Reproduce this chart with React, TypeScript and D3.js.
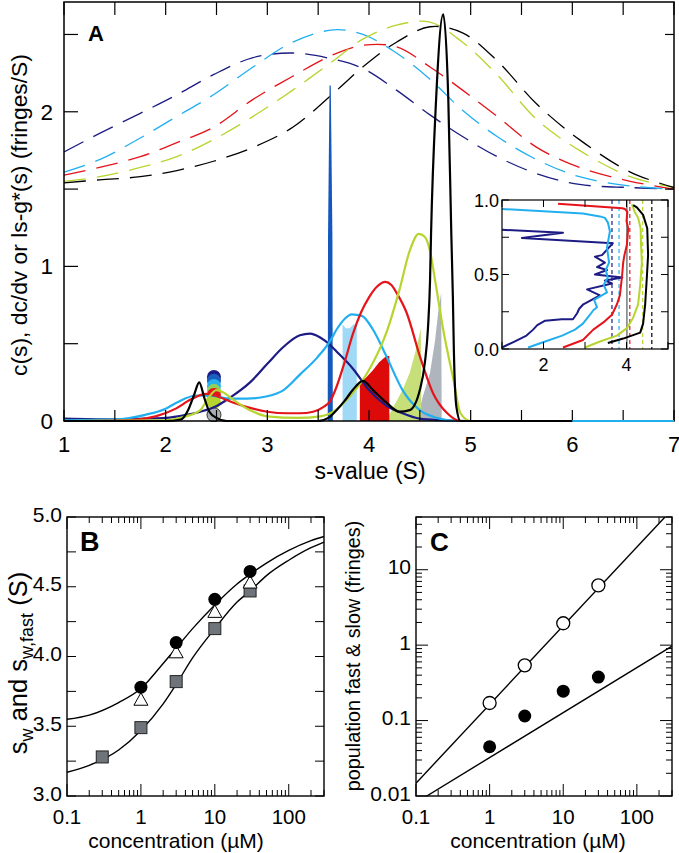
import React from "react";
import * as d3 from "d3";

const FONT = "'Liberation Sans', Arial, Helvetica, sans-serif";

// ---------------- Panel A data ----------------
// c(s) solid curves
const navyS = [1.0, 1.5, 1.8, 2.0, 2.2, 2.34, 2.48, 2.63, 2.83, 3.0, 3.16, 3.32, 3.42, 3.52, 3.62, 3.68, 3.84, 4.0, 4.17, 4.33, 4.5, 4.7, 5.0, 6.0];
const navyC = [0.015, 0.01, 0.015, 0.02, 0.04, 0.06, 0.09, 0.15, 0.25, 0.37, 0.48, 0.555, 0.565, 0.54, 0.49, 0.45, 0.34, 0.2, 0.1, 0.05, 0.015, 0.005, 0, 0];

const cyanS = [1.0, 1.5, 1.8, 2.0, 2.11, 2.3, 2.48, 2.63, 2.8, 3.0, 3.16, 3.32, 3.49, 3.62, 3.68, 3.76, 3.83, 3.93, 4.04, 4.17, 4.33, 4.5, 4.67, 4.85, 5.0, 6.0, 7.0];
const cyanC = [0.005, 0.01, 0.04, 0.08, 0.12, 0.165, 0.16, 0.145, 0.145, 0.16, 0.2, 0.3, 0.41, 0.52, 0.59, 0.66, 0.69, 0.68, 0.59, 0.42, 0.2, 0.07, 0.02, 0.0, 0, 0, 0];

const redS = [1.0, 1.6, 1.9, 2.1, 2.25, 2.4, 2.48, 2.66, 2.83, 3.0, 3.2, 3.32, 3.45, 3.55, 3.62, 3.68, 3.76, 3.84, 3.92, 4.0, 4.08, 4.16, 4.22, 4.27, 4.37, 4.5, 4.63, 4.77, 4.9, 5.0, 6.0];
const redC = [0, 0.005, 0.03, 0.08, 0.14, 0.175, 0.165, 0.12, 0.085, 0.06, 0.05, 0.05, 0.06, 0.09, 0.13, 0.22, 0.38, 0.56, 0.7, 0.8, 0.87, 0.9, 0.88, 0.83, 0.7, 0.42, 0.18, 0.05, 0.0, 0, 0];

const limeS = [1.0, 2.0, 2.2, 2.34, 2.42, 2.5, 2.58, 2.66, 2.83, 3.0, 3.3, 3.52, 3.62, 3.84, 4.0, 4.17, 4.3, 4.4, 4.49, 4.55, 4.6, 4.65, 4.73, 4.83, 4.9, 5.0, 6.0];
const limeC = [0, 0.005, 0.03, 0.07, 0.15, 0.2, 0.18, 0.14, 0.07, 0.03, 0.02, 0.03, 0.05, 0.18, 0.33, 0.57, 0.85, 1.1, 1.21, 1.19, 1.1, 0.91, 0.59, 0.27, 0.05, 0, 0];

const blackS = [1.0, 2.0, 2.15, 2.22, 2.28, 2.33, 2.38, 2.43, 2.5, 2.6, 3.0, 3.5, 3.6, 3.68, 3.76, 3.84, 3.94, 4.04, 4.17, 4.3, 4.4, 4.5, 4.55, 4.58, 4.6, 4.61, 4.66, 4.73, 4.78, 4.81, 4.825, 4.835, 4.86, 4.9, 5.0, 6.0];
const blackC = [0, 0, 0.01, 0.07, 0.17, 0.25, 0.15, 0.06, 0.02, 0, 0, 0, 0.02, 0.07, 0.13, 0.2, 0.26, 0.2, 0.12, 0.06, 0.07, 0.2, 0.38, 0.6, 0.9, 1.2, 2.08, 2.63, 2.08, 1.2, 0.8, 0.45, 0.09, 0, 0, 0];

// ls-g*(s) dashed curves (offset)
const dashS = [1, 1.35, 1.75, 2.11, 2.47, 2.86, 3.25, 3.65, 3.94, 4.27, 4.6, 4.92, 5.26, 5.65, 6.07, 6.57, 7.0];
const navyG = [1.74, 1.86, 1.99, 2.11, 2.24, 2.35, 2.38, 2.34, 2.28, 2.14, 1.98, 1.84, 1.71, 1.6, 1.53, 1.51, 1.5];
const cyanG = [1.61, 1.69, 1.83, 1.97, 2.11, 2.29, 2.45, 2.53, 2.5, 2.38, 2.21, 2.01, 1.84, 1.69, 1.58, 1.52, 1.5];
const redG = [1.59, 1.64, 1.71, 1.8, 1.9, 2.08, 2.23, 2.37, 2.43, 2.42, 2.29, 2.14, 1.97, 1.77, 1.64, 1.55, 1.5];
const limeG = [1.55, 1.58, 1.64, 1.71, 1.82, 1.97, 2.14, 2.33, 2.47, 2.56, 2.58, 2.45, 2.24, 1.95, 1.75, 1.58, 1.51];
const blackG = [1.54, 1.56, 1.58, 1.62, 1.68, 1.77, 1.9, 2.12, 2.29, 2.45, 2.55, 2.51, 2.33, 2.05, 1.82, 1.61, 1.51];

// filled components
const spikeS = [3.594, 3.597, 3.612, 3.624, 3.64, 3.644];
const spikeV = [0, 1.2, 2.17, 2.17, 1.2, 0];
const lbS = [3.74, 3.74, 3.77, 3.81, 3.85, 3.88, 3.88];
const lbV = [0, 0.625, 0.6, 0.6, 0.625, 0.62, 0];
const rfS = [3.91, 3.91, 3.97, 4.04, 4.1, 4.17, 4.2, 4.2];
const rfV = [0, 0.25, 0.28, 0.33, 0.38, 0.42, 0.42, 0];
const gfS = [4.13, 4.2, 4.24, 4.33, 4.4, 4.47, 4.51, 4.515];
const gfV = [0, 0.04, 0.09, 0.2, 0.31, 0.48, 0.6, 0];
const grS = [4.47, 4.53, 4.6, 4.65, 4.68, 4.71, 4.715];
const grV = [0, 0.16, 0.31, 0.52, 0.7, 0.83, 0];

// stacked circles at s = 2.475
const dotS = 2.475;
const dotV = [0.285, 0.26, 0.227, 0.195, 0.168, 0.123, 0.04];
const dotColors = ["#1c1c84", "#1a5fc0", "#25b0ee", "#8fcf5a", "#e5141b", "#b6d52e", "#a9afb5"];

// inset
const inNavyS = [1.0, 1.3, 1.59, 1.75, 1.85, 2.04, 2.44, 2.71, 2.81, 2.86, 2.96, 3.36, 3.05, 3.65, 3.48, 3.9, 3.24, 3.53, 3.29, 3.48, 3.24, 3.41, 3.67, 1.48, 2.47, 1.0];
const inNavyF = [0.01, 0.05, 0.09, 0.13, 0.16, 0.19, 0.2, 0.2, 0.24, 0.27, 0.3, 0.36, 0.4, 0.44, 0.46, 0.48, 0.5, 0.53, 0.55, 0.58, 0.62, 0.63, 0.71, 0.745, 0.78, 0.8];
const inCyanS = [1.63, 2.04, 2.45, 2.76, 2.95, 3.12, 3.2, 3.29, 3.22, 3.53, 3.45, 3.55, 3.5, 3.58, 3.53, 3.6, 3.55, 3.48, 3.36, 2.95, 1.0];
const inCyanF = [0.01, 0.05, 0.09, 0.13, 0.17, 0.23, 0.26, 0.28, 0.33, 0.38, 0.43, 0.48, 0.53, 0.58, 0.68, 0.79, 0.85, 0.88, 0.89, 0.91, 0.94];
const inRedS = [2.47, 2.95, 3.2, 3.45, 3.65, 3.77, 3.84, 3.89, 3.92, 3.95, 4.01, 4.04, 4.0, 4.02, 3.96, 3.9, 2.35];
const inRedF = [0.01, 0.06, 0.13, 0.18, 0.23, 0.3, 0.36, 0.48, 0.58, 0.63, 0.7, 0.81, 0.86, 0.92, 0.94, 0.945, 0.975];
const inLimeS = [3.0, 3.36, 3.77, 4.01, 4.16, 4.28, 4.33, 4.37, 4.35, 4.34, 4.28, 4.2, 4.13];
const inLimeF = [0.01, 0.05, 0.09, 0.14, 0.21, 0.3, 0.43, 0.58, 0.7, 0.81, 0.88, 0.92, 0.97];
const inBlackS = [3.55, 3.92, 4.33, 4.4, 4.45, 4.49, 4.52, 4.5, 4.4, 4.25, 4.16];
const inBlackF = [0.04, 0.07, 0.11, 0.17, 0.3, 0.48, 0.63, 0.81, 0.9, 0.95, 0.965];
const inMarkS = [3.65, 3.82, 4.08, 4.39, 4.61];
const inMarkColors = ["#1c1c84", "#25b0ee", "#e5141b", "#b6d52e", "#000000"];
const inGrayS = 4.01;

// ---------------- Panel B data ----------------
const bConcPts = [1, 3, 10, 30];
const bCircle = [3.78, 4.1, 4.41, 4.61];
const bTriangle = [3.69, 4.03, 4.32, 4.53];
const bSquareConc = [0.3, 1, 3, 10, 30];
const bSquare = [3.28, 3.49, 3.82, 4.2, 4.47];
const bFitConc = [0.1, 0.2, 0.5, 1, 2, 3, 5, 10, 20, 30, 50, 100, 200, 300];
const bFitUpper = [3.55, 3.58, 3.67, 3.77, 3.95, 4.06, 4.2, 4.37, 4.52, 4.59, 4.67, 4.76, 4.83, 4.86];
const bFitLower = [3.17, 3.22, 3.33, 3.47, 3.66, 3.8, 3.99, 4.2, 4.39, 4.47, 4.58, 4.69, 4.78, 4.82];

// ---------------- Panel C data ----------------
const cConc = [1, 3, 10, 30];
const cFast = [0.171, 0.54, 1.95, 6.2];
const cSlow = [0.045, 0.115, 0.245, 0.377];
const cFastLineX = [0.1, 241];
const cFastLineY = [0.0148, 50];
const cSlowLineX = [0.14, 300];
const cSlowLineY = [0.01, 0.97];

// tick labels
const aXLabels = [1, 2, 3, 4, 5, 6, 7];
const aYLabels = [0, 1, 2];
const bYLabels = ["3.0", "3.5", "4.0", "4.5", "5.0"];
const concLabels = ["0.1", "1", "10", "100"];
const cYLabels = ["0.01", "0.1", "1", "10"];

const C = { navy: "#1c1c84", royal: "#1457bd", cyan: "#21aff0", red: "#e5141b", lime: "#b6d52e", black: "#000" };

function mkLine(xs: number[], ys: number[], sx: any, sy: any, curve: any = d3.curveMonotoneX) {
  return d3.line<number>().x((_, i) => sx(xs[i])).y((_, i) => sy(ys[i])).curve(curve)(xs) || "";
}

function PanelA() {
  const L = 64, R = 674, T = 2, B = 421;
  const x = d3.scaleLinear().domain([1, 7]).range([L, R]);
  const y = d3.scaleLinear().domain([0, 2.71]).range([B, T]);
  const area = (xs: number[], ys: number[]) =>
    d3.line<number>().x((_, i) => x(xs[i])).y((_, i) => y(ys[i]))(xs) + "Z";
  const xt = d3.range(1, 7.001, 0.5);
  const yt = d3.range(0, 2.51, 0.5);

  // inset
  const iL = 502, iR = 668, iT = 200, iB = 349;
  const ix = d3.scaleLinear().domain([1, 5]).range([iL, iR]);
  const iy = d3.scaleLinear().domain([0, 1]).range([iB, iT]);
  const ixt = [1, 2, 3, 4, 5];
  const iyt = [0, 0.25, 0.5, 0.75, 1];

  const dashed = [
    [navyG, C.navy], [cyanG, C.cyan], [redG, C.red], [limeG, C.lime], [blackG, C.black],
  ] as [number[], string][];
  const solids = [
    [navyS, navyC, C.navy], [cyanS, cyanC, C.cyan], [redS, redC, C.red], [limeS, limeC, C.lime], [blackS, blackC, C.black],
  ] as [number[], number[], string][];
  const insetLines = [
    [inNavyS, inNavyF, C.navy], [inCyanS, inCyanF, C.cyan], [inRedS, inRedF, C.red], [inLimeS, inLimeF, C.lime], [inBlackS, inBlackF, C.black],
  ] as [number[], number[], string][];

  return (
    <g>
      <defs>
        <clipPath id="clipA"><rect x={L} y={T} width={R - L} height={B - T + 1} /></clipPath>
      </defs>
      <g clipPath="url(#clipA)">
        {dashed.map(([vals, col], k) => (
          <path key={"d" + k} d={mkLine(dashS, vals, x, y, d3.curveCatmullRom)} fill="none" stroke={col} strokeWidth={1.3} strokeDasharray="22,11" />
        ))}
        <path d={area(grS, grV)} fill="#aeb5bd" />
        <path d={area(gfS, gfV)} fill="#c6df78" />
        <path d={area(rfS, rfV)} fill="#dd0a0a" />
        <path d={area(lbS, lbV)} fill="#9fd9f6" />
        <path d={area(spikeS, spikeV)} fill={C.royal} />
        {dotV.map((v, k) => (
          <circle key={"c" + k} cx={x(dotS)} cy={y(v)} r={7} fill={dotColors[k]} stroke={k === dotV.length - 1 ? "#333" : "none"} strokeWidth={1} />
        ))}
        {solids.map(([xs, ys, col], k) => (
          <path key={"s" + k} d={mkLine(xs, ys, x, y)} fill="none" stroke={col} strokeWidth={2.2} strokeLinejoin="round" />
        ))}
      </g>
      <rect x={L} y={T} width={R - L} height={B - T} fill="none" stroke="#000" strokeWidth={1.5} />
      {xt.map((t, k) => (
        <g key={"xt" + k}>
          <line x1={x(t)} x2={x(t)} y1={B} y2={B - 11} stroke="#000" strokeWidth={1.2} />
          <line x1={x(t)} x2={x(t)} y1={T} y2={T + 13} stroke="#000" strokeWidth={1.2} />
        </g>
      ))}
      {yt.map((t, k) => (
        <g key={"yt" + k}>
          <line x1={L} x2={L + 14} y1={y(t)} y2={y(t)} stroke="#000" strokeWidth={1.2} />
          <line x1={R} x2={R - 9} y1={y(t)} y2={y(t)} stroke="#000" strokeWidth={1.2} />
        </g>
      ))}
      <path d={mkLine(cyanS.slice(-2), cyanC.slice(-2), x, y, d3.curveLinear)} fill="none" stroke={C.cyan} strokeWidth={2.2} />
      {aXLabels.map((t) => (
        <text key={"xl" + t} x={x(t)} y={452} textAnchor="middle" fontSize={22}>{t}</text>
      ))}
      {aYLabels.map((t) => (
        <text key={"yl" + t} x={53} y={y(t) + 8} textAnchor="end" fontSize={22.5}>{t}</text>
      ))}
      <text x={88} y={41} fontSize={22} fontWeight="bold">A</text>
      <text x={370} y={479} textAnchor="middle" fontSize={23}>s-value (S)</text>
      <text transform="translate(27,215) rotate(-90)" textAnchor="middle" fontSize={22.8}>c(s), dc/dv or ls-g*(s) (fringes/S)</text>

      {/* inset */}
      <rect x={iL} y={iT} width={iR - iL} height={iB - iT} fill="#fff" />
      {inMarkS.map((s, k) => (
        <line key={"im" + k} x1={ix(s)} x2={ix(s)} y1={iT} y2={iB} stroke={inMarkColors[k]} strokeWidth={1.2} strokeDasharray="4,3" />
      ))}
      <line x1={ix(inGrayS)} x2={ix(inGrayS)} y1={iT} y2={iB} stroke="#666" strokeWidth={1.3} />
      {insetLines.map(([xs, ys, col], k) => (
        <path key={"il" + k} d={mkLine(xs, ys, ix, iy, d3.curveLinear)} fill="none" stroke={col} strokeWidth={2} strokeLinejoin="round" />
      ))}
      <rect x={iL} y={iT} width={iR - iL} height={iB - iT} fill="none" stroke="#000" strokeWidth={1.2} />
      {ixt.map((t) => (
        <g key={"ixt" + t}>
          <line x1={ix(t)} x2={ix(t)} y1={iB} y2={iB - 7} stroke="#000" />
          <line x1={ix(t)} x2={ix(t)} y1={iT} y2={iT + 7} stroke="#000" />
        </g>
      ))}
      {iyt.map((t) => (
        <g key={"iyt" + t}>
          <line x1={iL} x2={iL + 7} y1={iy(t)} y2={iy(t)} stroke="#000" />
          <line x1={iR} x2={iR - 7} y1={iy(t)} y2={iy(t)} stroke="#000" />
        </g>
      ))}
      {[2, 4].map((t) => (
        <text key={"ixl" + t} x={ix(t)} y={371} textAnchor="middle" fontSize={18}>{t}</text>
      ))}
      {[0, 0.5, 1].map((t) => (
        <text key={"iyl" + t} x={499} y={iy(t) + 6.5} textAnchor="end" fontSize={18}>{t.toFixed(1)}</text>
      ))}
    </g>
  );
}

function logTicks(scale: any, horizontal: boolean, edge: number, dir: number) {
  return scale.ticks().map((t: number, k: number) => {
    const major = Math.abs(Math.log10(t) - Math.round(Math.log10(t))) < 1e-6;
    const len = major ? 12 : 6;
    const p = scale(t);
    return horizontal ? (
      <line key={k} x1={p} x2={p} y1={edge} y2={edge + dir * len} stroke="#000" strokeWidth={1} />
    ) : (
      <line key={k} x1={edge} x2={edge + dir * len} y1={p} y2={p} stroke="#000" strokeWidth={1} />
    );
  });
}

function PanelB() {
  const L = 67, R = 324, T = 517, B = 796;
  const x = d3.scaleLog().domain([0.1, 300]).range([L, R]);
  const y = d3.scaleLinear().domain([3, 5]).range([B, T]);
  const yt = d3.range(3, 5.001, 0.25);
  return (
    <g>
      <path d={mkLine(bFitConc, bFitUpper, x, y, d3.curveMonotoneX)} fill="none" stroke="#000" strokeWidth={1.4} />
      <path d={mkLine(bFitConc, bFitLower, x, y, d3.curveMonotoneX)} fill="none" stroke="#000" strokeWidth={1.4} />
      {bSquareConc.map((c, k) => (
        <rect key={"sq" + k} x={x(c) - 6} y={y(bSquare[k]) - 6} width={12} height={12} fill="#6e7479" stroke="#222" strokeWidth={1} />
      ))}
      {bConcPts.map((c, k) => {
        const cx = x(c), cy = y(bTriangle[k]);
        return <path key={"tr" + k} d={`M${cx},${cy - 7}L${cx + 7},${cy + 5.5}L${cx - 7},${cy + 5.5}Z`} fill="#fff" stroke="#000" strokeWidth={1} />;
      })}
      {bConcPts.map((c, k) => (
        <circle key={"ci" + k} cx={x(c)} cy={y(bCircle[k])} r={6.5} fill="#000" />
      ))}
      <rect x={L} y={T} width={R - L} height={B - T} fill="none" stroke="#000" strokeWidth={1.4} />
      {logTicks(x, true, B, -1)}
      {logTicks(x, true, T, 1)}
      {yt.map((t, k) => (
        <g key={"byt" + k}>
          <line x1={L} x2={L + 9} y1={y(t)} y2={y(t)} stroke="#000" />
          <line x1={R} x2={R - 9} y1={y(t)} y2={y(t)} stroke="#000" />
        </g>
      ))}
      {bYLabels.map((t) => (
        <text key={"byl" + t} x={62} y={y(+t) + 4.5} textAnchor="end" fontSize={21}>{t}</text>
      ))}
      {concLabels.map((t) => (
        <text key={"bxl" + t} x={x(+t)} y={824} textAnchor="middle" fontSize={20.5}>{t}</text>
      ))}
      <text x={176} y={848} textAnchor="middle" fontSize={21}>concentration (µM)</text>
      <text x={80} y={551} fontSize={27} fontWeight="bold">B</text>
      <text transform="translate(27,663) rotate(-90)" textAnchor="middle" fontSize={25.5}>
        s<tspan fontSize={18} dy={6}>w</tspan><tspan dy={-6}> and s</tspan><tspan fontSize={18} dy={6}>w,fast</tspan><tspan dy={-6}> (S)</tspan>
      </text>
    </g>
  );
}

function PanelC() {
  const L = 416, R = 672, T = 517, B = 796;
  const x = d3.scaleLog().domain([0.1, 300]).range([L, R]);
  const y = d3.scaleLog().domain([0.01, 50]).range([B, T]);
  return (
    <g>
      <defs>
        <clipPath id="clipC"><rect x={L} y={T} width={R - L} height={B - T} /></clipPath>
      </defs>
      <g clipPath="url(#clipC)">
        <path d={mkLine(cFastLineX, cFastLineY, x, y, d3.curveLinear)} fill="none" stroke="#000" strokeWidth={1.4} />
        <path d={mkLine(cSlowLineX, cSlowLineY, x, y, d3.curveLinear)} fill="none" stroke="#000" strokeWidth={1.4} />
      </g>
      {cConc.map((c, k) => (
        <circle key={"cf" + k} cx={x(c)} cy={y(cFast[k])} r={6.5} fill="#fff" stroke="#000" strokeWidth={1.3} />
      ))}
      {cConc.map((c, k) => (
        <circle key={"cs" + k} cx={x(c)} cy={y(cSlow[k])} r={6.5} fill="#000" />
      ))}
      <rect x={L} y={T} width={R - L} height={B - T} fill="none" stroke="#000" strokeWidth={1.4} />
      {logTicks(x, true, B, -1)}
      {logTicks(x, true, T, 1)}
      {logTicks(y, false, L, 1)}
      {logTicks(y, false, R, -1)}
      {cYLabels.map((t) => (
        <text key={"cyl" + t} x={411} y={y(+t) + 4.5} textAnchor="end" fontSize={21}>{t}</text>
      ))}
      {concLabels.map((t) => (
        <text key={"cxl" + t} x={x(+t)} y={824} textAnchor="middle" fontSize={20.5}>{t}</text>
      ))}
      <text x={538} y={848} textAnchor="middle" fontSize={21}>concentration (µM)</text>
      <text x={430} y={551} fontSize={26} fontWeight="bold">C</text>
      <text transform="translate(360,656) rotate(-90)" textAnchor="middle" fontSize={19.8}>population fast &amp; slow (fringes)</text>
    </g>
  );
}

export default function App() {
  return (
    <svg width={679} height={853} style={{ position: "absolute", left: 0, top: 0, background: "#fff" }} fontFamily={FONT}>
      <rect width={679} height={853} fill="#fff" />
      <PanelA />
      <PanelB />
      <PanelC />
    </svg>
  );
}
